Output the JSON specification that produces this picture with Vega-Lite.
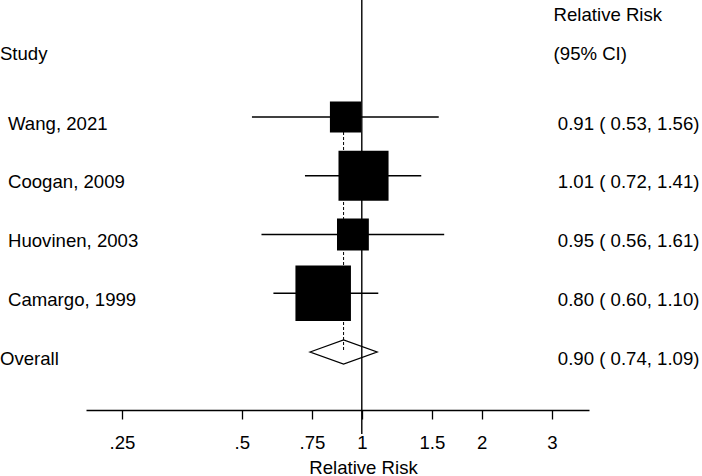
{
  "$schema": "https://vega.github.io/schema/vega-lite/v6.json",
  "width": 503,
  "height": 434,
  "autosize": "none",
  "padding": {"left": 86, "top": 0, "right": 113, "bottom": 42},
  "background": "white",
  "config": {
    "view": {"stroke": null},
    "font": "Liberation Sans",
    "text": {"font": "Liberation Sans", "fontSize": 18.6, "color": "black"}
  },
  "data": {
    "values": [
      {"study": "Study", "kind": "header"},
      {"study": "Wang, 2021", "kind": "study", "rr": 0.91, "lo": 0.53, "hi": 1.56, "weight": 12.8, "label": "0.91 ( 0.53, 1.56)"},
      {"study": "Coogan, 2009", "kind": "study", "rr": 1.01, "lo": 0.72, "hi": 1.41, "weight": 33.1, "label": "1.01 ( 0.72, 1.41)"},
      {"study": "Huovinen, 2003", "kind": "study", "rr": 0.95, "lo": 0.56, "hi": 1.61, "weight": 13.4, "label": "0.95 ( 0.56, 1.61)"},
      {"study": "Camargo, 1999", "kind": "study", "rr": 0.80, "lo": 0.60, "hi": 1.10, "weight": 40.7, "label": "0.80 ( 0.60, 1.10)"},
      {"study": "Overall", "kind": "overall", "rr": 0.90, "lo": 0.74, "hi": 1.09, "label": "0.90 ( 0.74, 1.09)"}
    ]
  },
  "encoding": {
    "y": {
      "field": "study",
      "type": "nominal",
      "scale": {
        "type": "point",
        "domain": ["Study", "Wang, 2021", "Coogan, 2009", "Huovinen, 2003", "Camargo, 1999", "Overall"],
        "range": [58.25, 352],
        "padding": 0
      },
      "axis": null
    }
  },
  "layer": [
    {
      "transform": [{"filter": "datum.kind === 'overall'"}],
      "mark": {"type": "rule", "color": "black", "strokeWidth": 1.4},
      "encoding": {
        "y": null,
        "x": {
          "datum": 1,
          "type": "quantitative",
          "scale": {"type": "log", "domain": [0.2031, 3.718], "nice": false, "zero": false},
          "axis": {
            "values": [0.25, 0.5, 0.75, 1, 1.5, 2, 3],
            "format": "~g",
            "labelExpr": "replace(datum.label, '0.', '.')",
            "title": "Relative Risk",
            "titleX": 277,
            "titleY": 63,
            "titleBaseline": "alphabetic",
            "titleAlign": "center",
            "titleFont": "Liberation Sans",
            "titleFontSize": 18.6,
            "titleFontWeight": "normal",
            "titleColor": "black",
            "labelFont": "Liberation Sans",
            "labelFontSize": 18.6,
            "labelColor": "black",
            "labelPadding": 14,
            "labelOverlap": false,
            "labelFlush": false,
            "tickSize": 9,
            "tickColor": "black",
            "tickWidth": 1.3,
            "domainColor": "black",
            "domainWidth": 1.5,
            "grid": false,
            "offset": -24
          }
        }
      }
    },
    {
      "transform": [
        {"filter": "datum.kind !== 'header'"},
        {"calculate": "datum.kind === 'overall' ? datum.rr : null", "as": "ovr"},
        {"joinaggregate": [{"op": "max", "field": "ovr", "as": "overall_rr"}]}
      ],
      "mark": {"type": "line", "color": "black", "strokeWidth": 1, "strokeDash": [3, 2]},
      "encoding": {
        "x": {"field": "overall_rr", "type": "quantitative"}
      }
    },
    {
      "transform": [{"filter": "datum.kind === 'study'"}],
      "mark": {"type": "rule", "color": "black", "strokeWidth": 1.3},
      "encoding": {
        "x": {"field": "lo", "type": "quantitative"},
        "x2": {"field": "hi"}
      }
    },
    {
      "transform": [{"filter": "datum.kind === 'study'"}],
      "mark": {"type": "square", "color": "black", "filled": true, "opacity": 1},
      "encoding": {
        "x": {"field": "rr", "type": "quantitative"},
        "size": {
          "field": "weight",
          "type": "quantitative",
          "scale": {"type": "linear", "domain": [0, 100], "range": [0, 7570]},
          "legend": null
        }
      }
    },
    {
      "transform": [{"filter": "datum.kind === 'overall'"}],
      "mark": {
        "type": "point",
        "shape": "M-1,0L0,-0.358L1,0L0,0.358Z",
        "size": 4489,
        "filled": false,
        "stroke": "black",
        "strokeWidth": 1.3,
        "opacity": 1
      },
      "encoding": {
        "x": {"field": "rr", "type": "quantitative"}
      }
    },
    {
      "transform": [{"filter": "datum.kind === 'study'"}],
      "mark": {"type": "text", "align": "left", "baseline": "alphabetic", "dy": 12.5},
      "encoding": {
        "x": {"datum": 0.1294, "type": "quantitative"},
        "text": {"field": "study"}
      }
    },
    {
      "transform": [{"filter": "datum.kind === 'overall'"}],
      "mark": {"type": "text", "align": "left", "baseline": "alphabetic", "dy": 12.5},
      "encoding": {
        "x": {"datum": 0.1235, "type": "quantitative"},
        "text": {"field": "study"}
      }
    },
    {
      "transform": [{"filter": "datum.kind !== 'header'"}],
      "mark": {"type": "text", "align": "left", "baseline": "alphabetic", "dy": 12.5},
      "encoding": {
        "x": {"datum": 3.105, "type": "quantitative"},
        "text": {"field": "label"}
      }
    },
    {
      "transform": [{"filter": "datum.kind === 'header'"}],
      "mark": {"type": "text", "align": "left", "baseline": "alphabetic", "dy": 1.75},
      "encoding": {
        "x": {"datum": 0.1235, "type": "quantitative"},
        "text": {"field": "study"}
      }
    },
    {
      "transform": [{"filter": "datum.kind === 'header'"}],
      "mark": {"type": "text", "align": "left", "baseline": "alphabetic", "dy": 1.75, "text": "(95% CI)"},
      "encoding": {
        "x": {"datum": 3.03, "type": "quantitative"}
      }
    },
    {
      "transform": [{"filter": "datum.kind === 'header'"}],
      "mark": {"type": "text", "align": "left", "baseline": "alphabetic", "dy": -37.5, "text": "Relative Risk"},
      "encoding": {
        "x": {"datum": 3.03, "type": "quantitative"}
      }
    }
  ]
}
